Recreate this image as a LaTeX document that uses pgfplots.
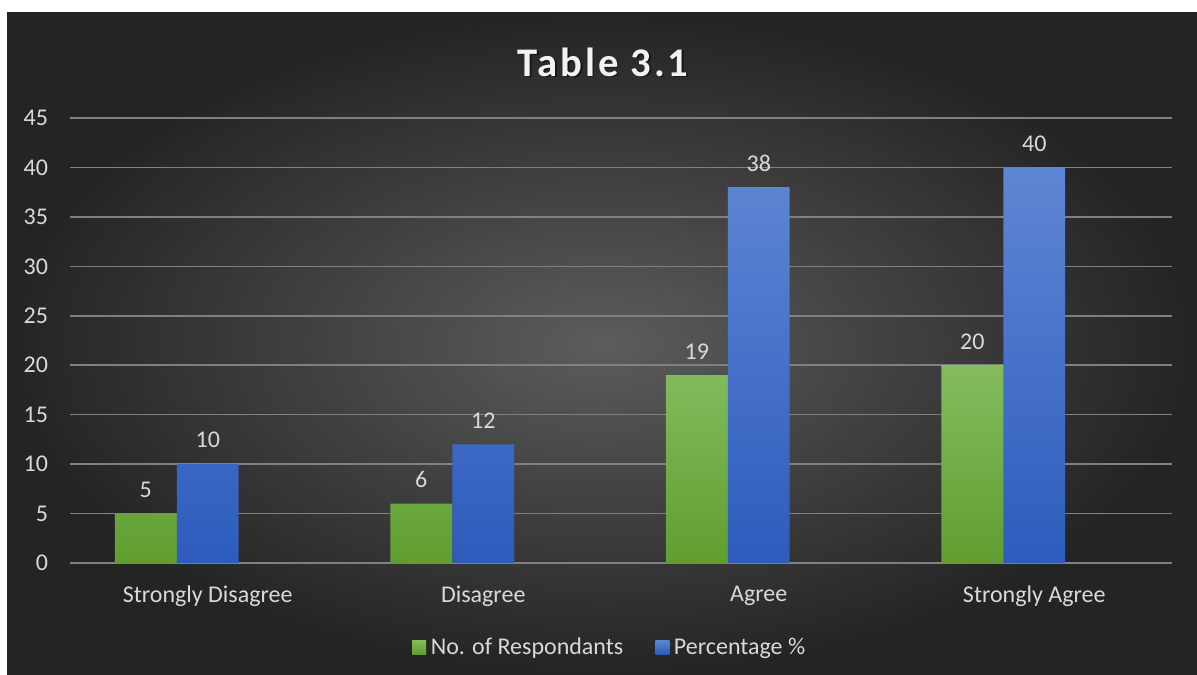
\documentclass[border=0pt]{standalone}
\usepackage{pgfplots}
\pgfplotsset{compat=1.18}
\usepackage{fontspec}
\setmainfont{Carlito}
\newfontfamily\titlefont[LetterSpace=7]{Carlito}
\definecolor{bgin}{HTML}{5C5C5C}
\definecolor{bgout}{HTML}{242424}
\definecolor{gtop}{HTML}{84BC5E}
\definecolor{gbot}{HTML}{5F9E30}
\definecolor{btop}{HTML}{5E86D3}
\definecolor{bbot}{HTML}{2D5CBD}
\definecolor{txt}{HTML}{D9D9D9}
\definecolor{gridc}{HTML}{808080}
\begin{document}
\begin{tikzpicture}
\fill[white] (0,0) rectangle (897.75pt,506.25pt);
\shade[inner color=bgin, outer color=bgout] (5.25pt,0) rectangle (897.75pt,496.5pt);
\node[text=black, opacity=0.5, font=\titlefont\bfseries\fontsize{30.5}{34}\selectfont] at (453.5pt,458.5pt) {Table 3.1};
\node[text=white!95!black, font=\titlefont\bfseries\fontsize{30.5}{34}\selectfont] at (452.25pt,459.75pt) {Table 3.1};
\begin{axis}[
  at={(52.5pt,84pt)}, anchor=south west,
  width=826.5pt, height=333.75pt, scale only axis,
  ybar=0pt, bar width=0.225,
  xmin=-0.5, xmax=3.5, ymin=0, ymax=45,
  xtick={0,1,2,3},
  xticklabels={Strongly Disagree, Disagree, Agree, Strongly Agree},
  ytick={0,5,...,45},
  ymajorgrids, grid style={draw=gridc, line width=1.1pt},
  axis line style={draw=none},
  major tick style={draw=none},
  /pgf/number format/assume math mode=true,
  ticklabel style={font=\fontsize{18}{20}\selectfont, text=txt},
  yticklabel style={xshift=-13pt},
  xticklabel style={yshift=-9.5pt},
  nodes near coords,
  every node near coord/.append style={font=\fontsize{18}{20}\selectfont, text=txt, yshift=8.5pt},
  legend style={at={(0.49,-0.189)}, anchor=center, draw=none, fill=none,
    font=\fontsize{18}{20}\selectfont, text=txt, legend columns=2,
    /tikz/every even column/.append style={column sep=22pt},
    /tikz/every odd column/.append style={column sep=1.5pt}},
  legend image code/.code={\fill[#1] (0pt,-5.25pt) rectangle (10.5pt,5.25pt);},
]
\addplot[draw=none, top color=gtop, bottom color=gbot, bar shift=-0.225] coordinates {(0,5) (1,6) (2,19) (3,20)};
\addplot[draw=none, top color=btop, bottom color=bbot, bar shift=0] coordinates {(0,10) (1,12) (2,38) (3,40)};
\legend{No. of Respondants, Percentage \%}
\end{axis}
\end{tikzpicture}
\end{document}
